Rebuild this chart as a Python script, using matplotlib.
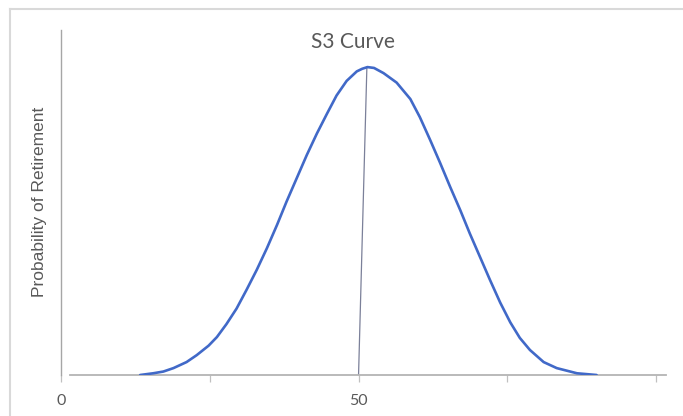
import matplotlib
matplotlib.use("Agg")
import matplotlib.pyplot as plt
from matplotlib.lines import Line2D

# ---- data ----
age = [13.3, 15.5, 17.2, 18.9, 21.1, 22.8, 24.8, 26.2, 27.8, 29.5, 31.2, 32.9,
       34.6, 36.3, 37.9, 39.6, 41.3, 43.0, 44.7, 46.3, 48.0, 49.7, 50.6, 51.5,
       52.6, 54.2, 56.4, 58.7, 60.3, 62.0, 63.7, 65.4, 67.1, 68.7, 70.4, 72.1,
       73.8, 75.5, 77.1, 78.8, 81.1, 83.3, 86.7, 90.0]
prob = [0.0000, 0.0002, 0.0004, 0.0008, 0.0015, 0.0023, 0.0034, 0.0044, 0.0059,
        0.0077, 0.0099, 0.0122, 0.0147, 0.0174, 0.0201, 0.0228, 0.0255, 0.0280,
        0.0303, 0.0324, 0.0341, 0.0352, 0.0355, 0.0357,
        0.0356, 0.0350, 0.0339, 0.0320, 0.0299, 0.0273, 0.0246, 0.0218, 0.0191,
        0.0164, 0.0137, 0.0110, 0.0084, 0.0061, 0.0043, 0.0029, 0.0015, 0.0008,
        0.0002, 0.0000]
marker_x = [51.4, 50.0]
marker_y = [0.0357, 0.0]
xticks = [0, 25, 50, 75, 100]
xticklabels = ["0", "", "50", "", ""]
title = "S3 Curve"
ylabel = "Probability of Retirement"

W, H = 683, 416
fig = plt.figure(figsize=(W / 100, H / 100), dpi=100)
fig.patch.set_facecolor("white")

# outer chart border (light gray), left and top edges visible
fig.add_artist(Line2D([10 / W, 10 / W], [0, 1 - 9 / H], transform=fig.transFigure,
                      color="#d9d9d9", lw=1.5))
fig.add_artist(Line2D([10 / W, 1], [1 - 9 / H, 1 - 9 / H], transform=fig.transFigure,
                      color="#d9d9d9", lw=1.5))

ax = fig.add_axes([61 / W, 41 / H, 607 / W, 345 / H])
ax.set_xlim(0, 102)
ax.set_ylim(0, 0.04)
ax.set_facecolor("none")

ax.plot(marker_x, marker_y, color="#7b8099", lw=0.9, zorder=2)
ax.plot(age, prob, color="#4169c8", lw=1.9, solid_joinstyle="round",
        solid_capstyle="round", zorder=3)

for s in ["top", "right"]:
    ax.spines[s].set_visible(False)
ax.spines["left"].set_color("#a6a6a6")
ax.spines["left"].set_linewidth(1.0)
ax.spines["bottom"].set_color("#b4b4b4")
ax.spines["bottom"].set_linewidth(1.3)
ax.spines["bottom"].set_bounds(1.5, 101.7)

ax.set_yticks([])
ax.set_xticks(xticks)
ax.set_xticklabels(xticklabels)
ax.tick_params(axis="x", direction="out", length=5, width=0.9, color="#c0c0c0",
               labelcolor="#595959", labelsize=11.5, pad=9)
for lab in ax.get_xticklabels():
    lab.set_fontfamily("Lato")

ax.set_ylabel(ylabel, fontsize=12.5, family="Liberation Sans", color="#595959",
              labelpad=7)
ax.yaxis.set_label_coords(-14 / 607, (375 - 202) / 345)

fig.text(353 / W, 1 - 42 / H, title, fontsize=15, family="Lato", color="#595959",
         ha="center", va="center")

fig.savefig("out.png", dpi=100)
